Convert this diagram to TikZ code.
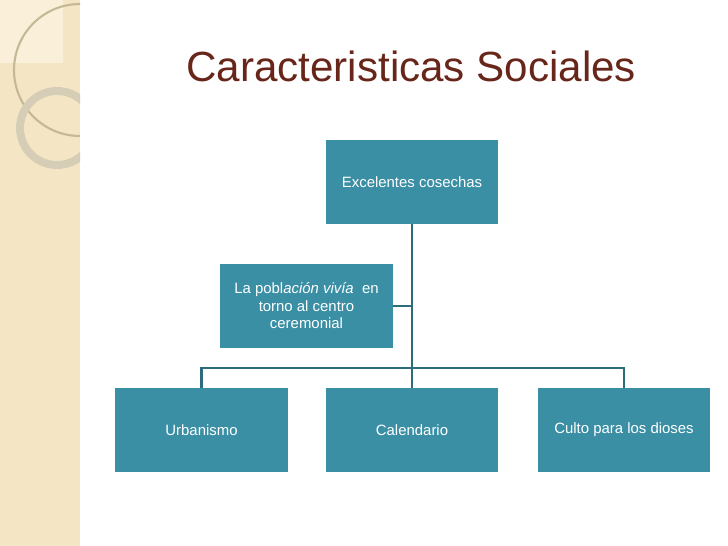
\documentclass[tikz,border=0pt]{standalone}
\usepackage{fontspec}
\setmainfont{Liberation Sans}
\usetikzlibrary{positioning}
\definecolor{boxteal}{RGB}{58,143,165}
\definecolor{linkteal}{RGB}{46,108,124}
\definecolor{titlebrown}{RGB}{104,38,26}
\definecolor{stripbeige}{RGB}{244,230,196}
\definecolor{paleBeige}{RGB}{250,240,218}
\definecolor{ringgrey}{RGB}{196,184,150}
\tikzset{
  orgbox/.style={fill=boxteal, text=white, minimum width=3.46cm, minimum height=1.68cm,
    inner sep=2pt, align=center, font=\fontsize{8.5}{10}\selectfont},
  link/.style={draw=linkteal, line width=1.2pt}
}
\begin{document}
\begin{tikzpicture}[x=0.02cm, y=-0.02cm]

% Background
\useasboundingbox[fill=white] (0,0) rectangle (728,546);

% Left strip
\fill[stripbeige] (0,0) rectangle (80,546);
\fill[paleBeige] (0,0) rectangle (63,63);
\draw[white, line width=1pt] (81,0) -- (81,546);
\begin{scope}
\clip (0,0) rectangle (80,546);
\draw[ringgrey, line width=1.2pt] (80,70) circle (66);
\draw[ringgrey!70, line width=4.5pt] (57,128) circle (37);
\end{scope}

% Title
\node[anchor=base west, text=titlebrown, font=\fontsize{24}{28}\selectfont] (title) at (180,82) {Caracteristicas Sociales};

% Boxes
\node[orgbox] (cosechas) at (412,182) {Excelentes cosechas};
\node[orgbox] (poblacion) at (306.5,306) {La pobl\emph{ación vivía} \ en\\torno al centro\\ceremonial};
\node[orgbox] (urbanismo) at (201.5,430) {Urbanismo};
\node[orgbox] (calendario) at (412,430) {Calendario};
\node[orgbox] (culto) at (624,430) {Culto para los dioses};

% Connectors
\draw[link] (cosechas.south) -- (calendario.north);
\draw[link] (poblacion.east) -- (poblacion.east -| cosechas.south);
\draw[link] (urbanismo.north) -- ++(0,-20) -| (culto.north);
\end{tikzpicture}
\end{document}
